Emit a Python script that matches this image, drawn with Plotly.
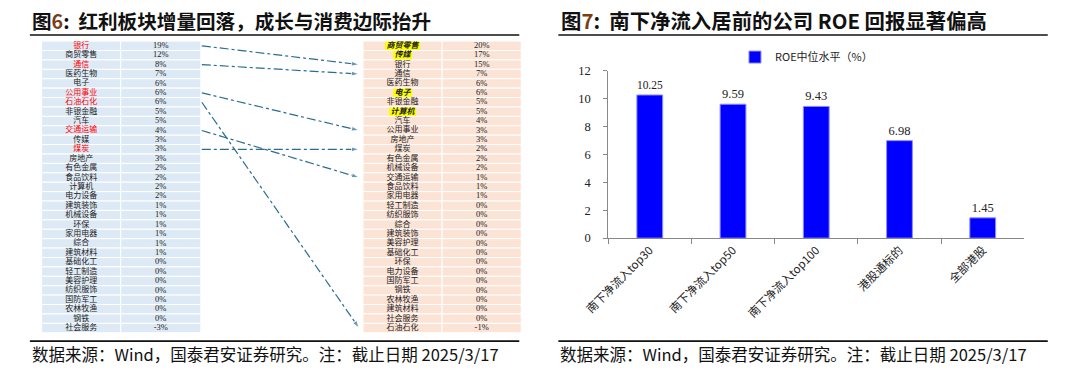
import plotly.graph_objects as go

# ---------------- data ----------------
left_names = ["银行", "商贸零售", "通信", "医药生物", "电子", "公用事业", "石油石化", "非银金融",
              "汽车", "交通运输", "传媒", "煤炭", "房地产", "有色金属", "食品饮料", "计算机",
              "电力设备", "建筑装饰", "机械设备", "环保", "家用电器", "综合", "建筑材料",
              "基础化工", "轻工制造", "美容护理", "纺织服饰", "国防军工", "农林牧渔", "钢铁", "社会服务"]
left_vals = [19, 12, 8, 7, 6, 6, 6, 5, 5, 4, 3, 3, 3, 2, 2, 2, 2, 1, 1, 1, 1, 1, 1,
             0, 0, 0, 0, 0, 0, 0, -3]
left_red = ["银行", "通信", "公用事业", "石油石化", "交通运输", "煤炭"]

right_names = ["商贸零售", "传媒", "银行", "通信", "医药生物", "电子", "非银金融", "计算机",
               "汽车", "公用事业", "房地产", "煤炭", "有色金属", "机械设备", "交通运输", "食品饮料",
               "家用电器", "轻工制造", "纺织服饰", "综合", "建筑装饰", "美容护理", "基础化工",
               "环保", "电力设备", "国防军工", "钢铁", "农林牧渔", "建筑材料", "社会服务", "石油石化"]
right_vals = [20, 17, 15, 7, 6, 6, 5, 5, 4, 3, 3, 2, 2, 2, 1, 1, 1, 0, 0, 0, 0, 0, 0,
              0, 0, 0, 0, 0, 0, 0, -1]
right_highlight = ["商贸零售", "传媒", "电子", "计算机"]
arrow_sectors = ["银行", "通信", "公用事业", "石油石化", "交通运输", "煤炭"]

roe_cats = ["南下净流入top30", "南下净流入top50", "南下净流入top100", "港股通标的", "全部港股"]
roe_vals = [10.25, 9.59, 9.43, 6.98, 1.45]

# ---------------- layout helpers ----------------
W, H = 1080, 378
CJK = "Noto Sans CJK SC"
SERIF = "Liberation Serif"


def px(x):
    return x / W


def py(y):
    return 1 - y / H


ROW0, DY = 40.3, 9.77
L_X0, L_XM, L_X1 = 17, 98, 180
R_X0, R_XM, R_X1 = 346, 427, 508
LEFT_FILL = "#DDEAF6"
RIGHT_FILL = "#FBE3D6"


def row_y(i):
    return ROW0 + i * DY


fig = go.Figure()
shapes = []

# table cells
for tbl_names, x0, xm, x1, fill in [(left_names, L_X0, L_XM, L_X1, LEFT_FILL),
                                    (right_names, R_X0, R_XM, R_X1, RIGHT_FILL)]:
    for i, _ in enumerate(tbl_names):
        yc = row_y(i)
        for a, b in [(x0, xm), (xm, x1)]:
            shapes.append(dict(type="rect", xref="x2", yref="y2", x0=a, x1=b,
                               y0=yc - DY / 2, y1=yc + DY / 2, fillcolor=fill,
                               line=dict(color="white", width=1), layer="below"))

# highlight boxes on the right
for s in right_highlight:
    i = right_names.index(s)
    w = len(s) * 8.2 + 3
    cx = (R_X0 + R_XM) / 2
    shapes.append(dict(type="rect", xref="x2", yref="y2", x0=cx - w / 2, x1=cx + w / 2,
                       y0=row_y(i) - 4.4, y1=row_y(i) + 4.4, fillcolor="#FFFF00",
                       line=dict(width=0), layer="below"))

# left table text
fig.add_trace(go.Scatter(
    x=[(L_X0 + L_XM) / 2] * len(left_names), y=[row_y(i) for i in range(len(left_names))],
    text=left_names, mode="text", xaxis="x2", yaxis="y2", showlegend=False, hoverinfo="skip",
    textfont=dict(family=CJK, size=8,
                  color=["#FF0000" if n in left_red else "#222222" for n in left_names])))
fig.add_trace(go.Scatter(
    x=[(L_XM + L_X1) / 2] * len(left_vals), y=[row_y(i) for i in range(len(left_vals))],
    text=[f"{v}%" for v in left_vals], mode="text", xaxis="x2", yaxis="y2",
    showlegend=False, hoverinfo="skip", textfont=dict(family=SERIF, size=8.5, color="#222222")))

# right table text
fig.add_trace(go.Scatter(
    x=[(R_X0 + R_XM) / 2] * len(right_names), y=[row_y(i) for i in range(len(right_names))],
    text=[f"<b><i>{n}</i></b>" if n in right_highlight else n for n in right_names],
    mode="text", xaxis="x2", yaxis="y2", showlegend=False, hoverinfo="skip",
    textfont=dict(family=CJK, size=8, color="#222222")))
fig.add_trace(go.Scatter(
    x=[(R_XM + R_X1) / 2] * len(right_vals), y=[row_y(i) for i in range(len(right_vals))],
    text=[f"{v}%" for v in right_vals], mode="text", xaxis="x2", yaxis="y2",
    showlegend=False, hoverinfo="skip", textfont=dict(family=SERIF, size=8.5, color="#222222")))

# arrows
ARROW = "#2B6C93"
for s in arrow_sectors:
    yl = row_y(left_names.index(s))
    yr = row_y(right_names.index(s))
    fig.add_trace(go.Scatter(
        x=[L_X1 + 1, R_X0 - 4], y=[yl, yr], mode="lines+markers", xaxis="x2", yaxis="y2",
        line=dict(color=ARROW, width=1.2, dash="dashdot"),
        marker=dict(symbol="arrow", angleref="previous", size=[0, 8], color=ARROW),
        showlegend=False, hoverinfo="skip", cliponaxis=False))

# ---------------- bar chart ----------------
fig.add_trace(go.Bar(
    x=roe_cats, y=roe_vals, name="ROE中位水平（%）",
    marker=dict(color="#0000FF", line=dict(color="#8C8CFF", width=1)),
    text=[f"{v:.2f}" for v in roe_vals], textposition="outside",
    textfont=dict(family=SERIF, size=12.5, color="#222222"), cliponaxis=False))

# title / footer rules
for x0, x1 in [(5, 506), (546, 1047)]:
    shapes.append(dict(type="line", xref="paper", yref="paper", x0=px(x0), x1=px(x1),
                       y0=py(29), y1=py(29), line=dict(color="#111111", width=1.6)))
    shapes.append(dict(type="line", xref="paper", yref="paper", x0=px(x0), x1=px(x1),
                       y0=py(347), y1=py(347), line=dict(color="#111111", width=1.6)))

annotations = []
BROWN = "#7A3E12"
annotations.append(dict(
    text=f"图<span style='color:{BROWN}'>6</span>:  红利板块增量回落，成长与消费边际抬升",
    x=px(5), y=py(14), xref="paper", yref="paper", xanchor="left", yanchor="middle",
    showarrow=False, font=dict(family=CJK, size=19.6, color="#111111", weight="bold")))
annotations.append(dict(
    text=f"图<span style='color:{BROWN}'>7</span>:  南下净流入居前的公司 ROE 回报显著偏高",
    x=px(547), y=py(14), xref="paper", yref="paper", xanchor="left", yanchor="middle",
    showarrow=False, font=dict(family=CJK, size=20.4, color="#111111", weight="bold")))
for x0 in [5, 546]:
    annotations.append(dict(
        text="数据来源：Wind，国泰君安证券研究。注：截止日期 2025/3/17",
        x=px(x0), y=py(360), xref="paper", yref="paper", xanchor="left", yanchor="middle",
        showarrow=False, font=dict(family=CJK, size=16.5, color="#111111")))

fig.update_layout(
    width=W, height=H, margin=dict(l=0, r=0, t=0, b=0),
    paper_bgcolor="white", plot_bgcolor="white",
    shapes=shapes, annotations=annotations, bargap=0.69,
    showlegend=True,
    legend=dict(orientation="h", x=px(800), xanchor="center", y=py(52), yanchor="middle",
                font=dict(family=CJK, size=11, color="#222222"), itemwidth=30,
                bgcolor="rgba(0,0,0,0)"),
    xaxis=dict(domain=[px(597), px(1023)], anchor="y", showline=True, linecolor="#888888",
               ticks="outside", tickson="boundaries", ticklen=5, tickcolor="#888888",
               tickangle=-45, showgrid=False,
               tickfont=dict(family=CJK, size=11.5, color="#222222")),
    yaxis=dict(domain=[py(240), py(66)], anchor="x", range=[0, 12], dtick=2,
               showline=True, linecolor="#888888", ticks="outside", ticklen=4,
               tickcolor="#888888", showgrid=False, zeroline=False,
               ticklabelstandoff=10,
               tickfont=dict(family=SERIF, size=12.5, color="#222222")),
    xaxis2=dict(domain=[0, 0.5], anchor="y2", range=[0, 540], visible=False, fixedrange=True),
    yaxis2=dict(domain=[0, 1], anchor="x2", range=[H, 0], visible=False, fixedrange=True),
)

fig.write_html("out.html")
